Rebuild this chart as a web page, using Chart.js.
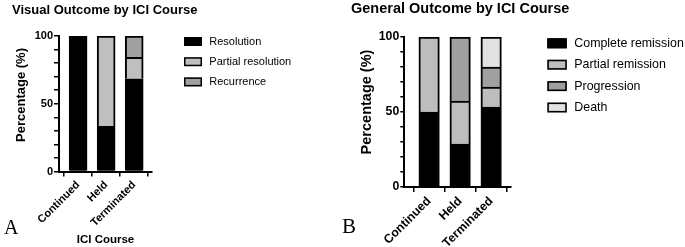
<!DOCTYPE html>
<html><head><meta charset="utf-8">
<script src="https://cdn.jsdelivr.net/npm/chart.js@4"></script>
<style>
html,body{margin:0;padding:0;background:#fff;}
#wrap{position:relative;width:685px;height:247px;overflow:hidden;background:#fff;}
canvas{position:absolute;top:0;}
</style></head><body>
<div id="wrap">
<canvas id="cA" width="340" height="247" style="left:0px;width:340px;height:247px"></canvas>
<canvas id="cB" width="345" height="247" style="left:340px;width:345px;height:247px"></canvas>
</div>
<script>
// ---- data ----
const categories = ['Continued', 'Held', 'Terminated'];
const yTickLabels = [0, 50, 100];

const visualLabels = ['Resolution', 'Partial resolution', 'Recurrence'];
const visualResolution = [100, 33.3, 68.4];
const visualPartial = [0, 66.7, 15.8];
const visualRecurrence = [0, 0, 15.8];

const generalLabels = ['Complete remission', 'Partial remission', 'Progression', 'Death'];
const generalComplete = [50, 28.6, 53.3];
const generalPartial = [50, 28.6, 13.3];
const generalProgression = [0, 42.8, 13.4];
const generalDeath = [0, 0, 20];

// ---- styling ----
const FF = '"Liberation Sans", Arial, Helvetica, sans-serif';
Chart.defaults.font.family = FF;
Chart.defaults.color = '#000';

const decor = {
  id: 'decor',
  afterDraw(chart, args, o) {
    const ctx = chart.ctx;
    ctx.save();
    ctx.fillStyle = '#000';
    ctx.font = 'bold ' + o.titleSize + 'px ' + FF;
    ctx.textAlign = 'left'; ctx.textBaseline = 'middle';
    ctx.fillText(o.title, o.titleX, o.titleY);
    ctx.font = o.letterSize + 'px "Liberation Serif", "Times New Roman", serif';
    ctx.textBaseline = 'alphabetic';
    ctx.fillText(o.letter, o.letterX, o.letterY);
    ctx.save();
    ctx.translate(o.yTitleX, o.yTitleY);
    ctx.rotate(-Math.PI / 2);
    ctx.font = 'bold ' + o.yTitleSize + 'px ' + FF;
    ctx.textAlign = 'center'; ctx.textBaseline = 'middle';
    ctx.fillText(o.yTitle, 0, 0);
    ctx.restore();
    chart.data.datasets.forEach((ds, i) => {
      const yc = o.legY + i * o.legGap;
      const bl = o.boxLine;
      ctx.fillStyle = ds.backgroundColor;
      ctx.fillRect(o.legX, yc - o.boxH / 2, o.boxW, o.boxH);
      ctx.strokeStyle = '#000'; ctx.lineWidth = bl;
      ctx.strokeRect(o.legX + bl / 2, yc - o.boxH / 2 + bl / 2, o.boxW - bl, o.boxH - bl);
      ctx.fillStyle = '#000';
      ctx.font = o.legSize + 'px ' + FF;
      ctx.textAlign = 'left'; ctx.textBaseline = 'middle';
      ctx.fillText(ds.label, o.legX + o.boxW + o.legPad, yc);
    });
    ctx.restore();
  }
};

function makeChart(id, cfg) {
  return new Chart(document.getElementById(id), {
    type: 'bar',
    data: {
      datasets: cfg.series.map((s, i) => ({
        label: cfg.labels[i],
        data: s.map((v, j) => ({ x: j, y: v })).filter(p => p.y > 0),
        backgroundColor: cfg.colors[i],
        borderColor: '#000',
        borderWidth: 2,
        borderSkipped: 'start',
        barThickness: cfg.barW
      }))
    },
    options: {
      responsive: false, animation: false, devicePixelRatio: 1,
      layout: { padding: { top: cfg.top, left: 0, right: cfg.padR, bottom: 0 } },
      plugins: { legend: { display: false }, tooltip: { enabled: false }, decor: cfg.decor },
      scales: {
        x: {
          type: 'linear', stacked: true, min: cfg.xMin, max: cfg.xMax, offset: false,
          afterFit: s => { s.height = cfg.xH; },
          grid: { display: true, drawOnChartArea: false, drawTicks: true, tickLength: 5, color: '#000', lineWidth: 1.5 },
          border: { display: true, color: '#000', width: 2 },
          ticks: {
            stepSize: 1, includeBounds: false, autoSkip: false, maxRotation: 45, minRotation: 45,
            color: '#000', font: { weight: 'bold', size: cfg.tickSize }, padding: cfg.xTickPad,
            callback: v => (Number.isInteger(v) && categories[v] !== undefined) ? categories[v] : ''
          },
          title: cfg.xTitle ? { display: true, text: cfg.xTitle, color: '#000', font: { weight: 'bold', size: 11.5 }, padding: { top: 0, bottom: 0 } } : { display: false }
        },
        y: {
          stacked: true, min: 0, max: 100,
          afterFit: s => { s.width = cfg.yW; },
          grid: { display: true, drawOnChartArea: false, drawTicks: true, tickLength: cfg.yTickLen, color: '#000', lineWidth: 1.5 },
          border: { display: true, color: '#000', width: 2 },
          ticks: {
            stepSize: 10, autoSkip: false, color: '#000', font: { weight: 'bold', size: cfg.tickSize }, padding: 1,
            callback: v => yTickLabels.includes(v) ? String(v) : ''
          }
        }
      }
    },
    plugins: [decor]
  });
}

makeChart('cA', {
  series: [visualResolution, visualPartial, visualRecurrence],
  labels: visualLabels,
  colors: ['#000000', '#bfbfbf', '#a0a0a0'],
  top: 36, padR: 188, xH: 75.5, yW: 59, xMin: -0.68, xMax: 2.634, barW: 18,
  tickSize: 11, yTickLen: 5, xTickPad: 2, xTitle: 'ICI Course',
  decor: {
    title: 'Visual Outcome by ICI Course', titleSize: 13, titleX: 12, titleY: 10,
    letter: 'A', letterSize: 20, letterX: 4, letterY: 234,
    yTitle: 'Percentage (%)', yTitleSize: 13, yTitleX: 21.7, yTitleY: 95,
    legX: 184, legY: 41.5, legGap: 20.2, boxW: 18, boxH: 9, boxLine: 1.5, legSize: 11, legPad: 7.3
  }
});

makeChart('cB', {
  series: [generalComplete, generalPartial, generalProgression, generalDeath],
  labels: generalLabels,
  colors: ['#000000', '#bdbdbd', '#a0a0a0', '#e2e2e2'],
  top: 37, padR: 174, xH: 60, yW: 64.3, xMin: -0.8, xMax: 2.64, barW: 20.5,
  tickSize: 12.3, yTickLen: 4, xTickPad: 2, xTitle: null,
  decor: {
    title: 'General Outcome by ICI Course', titleSize: 14.5, titleX: 11, titleY: 9,
    letter: 'B', letterSize: 21, letterX: 2, letterY: 233,
    yTitle: 'Percentage (%)', yTitleSize: 14.5, yTitleX: 26.7, yTitleY: 102,
    legX: 207.3, legY: 43.3, legGap: 21.4, boxW: 19.5, boxH: 10, boxLine: 1.6, legSize: 12.4, legPad: 7.5
  }
});
</script>
</body></html>
